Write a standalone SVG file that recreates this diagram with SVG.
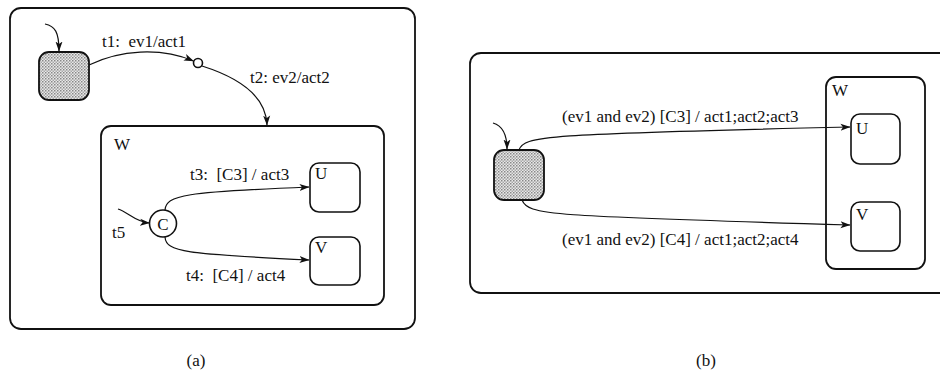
<svg xmlns="http://www.w3.org/2000/svg" width="940" height="375" viewBox="0 0 940 375">
<style>
  .box{fill:none;stroke:#111;stroke-width:1.8}
  .st{fill:#fff;stroke:#111;stroke-width:1.6}
  .sh{fill:url(#dots);stroke:#111;stroke-width:1.8}
  .ln{fill:none;stroke:#111;stroke-width:1.2;marker-end:url(#ah)}
  text{font-family:"Liberation Serif","Times New Roman",serif;font-size:17px;fill:#111;white-space:pre}
</style>
<defs>
  <marker id="ah" viewBox="0 0 10 8" refX="9.5" refY="4" markerWidth="10" markerHeight="8" markerUnits="userSpaceOnUse" orient="auto">
    <path d="M0,0.5 L10,4 L0,7.5 L2.5,4 z" fill="#111"/>
  </marker>
  <pattern id="dots" width="3" height="3" patternUnits="userSpaceOnUse">
    <rect width="3" height="3" fill="#e8e8e8"/>
    <rect width="1.5" height="1.5" fill="#888"/>
    <rect x="1.5" y="1.5" width="1.5" height="1.5" fill="#a8a8a8"/>
  </pattern>
</defs>

<!-- Diagram (a) -->
<g id="a-outer"><rect class="box" x="10" y="8" width="405" height="321" rx="11"/></g>
<g id="a-src"><rect class="sh" x="39" y="52" width="50" height="48" rx="10"/></g>
<g id="a-junction"><circle class="st" cx="198" cy="63" r="4.5"/></g>
<g id="a-W"><rect class="box" x="101" y="126" width="283" height="179" rx="10"/><text x="114" y="150">W</text></g>
<g id="a-U"><rect class="st" x="310" y="163" width="50" height="49" rx="9"/><text x="315" y="179">U</text></g>
<g id="a-V"><rect class="st" x="310" y="237" width="50" height="48" rx="9"/><text x="315" y="253">V</text></g>
<g id="a-C"><circle class="st" cx="163" cy="223.5" r="13.5"/><text x="163" y="229.5" text-anchor="middle">C</text></g>

<!-- Diagram (b) -->
<g id="b-outer"><rect class="box" x="470" y="53" width="500" height="240" rx="11"/></g>
<g id="b-src"><rect class="sh" x="494" y="150" width="50" height="50" rx="10"/></g>
<g id="b-W"><rect class="box" x="826" y="77" width="99" height="192" rx="10"/><text x="832" y="96">W</text></g>
<g id="b-U"><rect class="st" x="851" y="114" width="49" height="50" rx="9"/><text x="856" y="134">U</text></g>
<g id="b-V"><rect class="st" x="851" y="202" width="49" height="49" rx="9"/><text x="856" y="220">V</text></g>

<g id="connectors">
  <path class="ln" d="M45,24 C55,26 59,32 59,51"/>
  <path class="ln" d="M89,65 C120,50 160,47 193.5,61"/>
  <path class="ln" d="M202,66 C240,78 266,96 267,125"/>
  <path class="ln" d="M118,209 C128,212 135,222 149.5,223"/>
  <path class="ln" d="M165,210 C166,195 185,192 309,187"/>
  <path class="ln" d="M165,237 C166,252 185,254 309,260"/>
  <path class="ln" d="M493,123 C500,125 507,132 507,149"/>
  <path class="ln" d="M519,150 C524,136 540,134 850,127"/>
  <path class="ln" d="M522,200 C528,215 545,216 850,225"/>
</g>

<g id="labels">
  <text x="102" y="47">t1:  ev1/act1</text>
  <text x="250" y="83">t2: ev2/act2</text>
  <text x="190" y="180">t3:  [C3] / act3</text>
  <text x="186" y="281">t4:  [C4] / act4</text>
  <text x="112" y="238">t5</text>
  <text x="562" y="122">(ev1 and ev2) [C3] / act1;act2;act3</text>
  <text x="562" y="245">(ev1 and ev2) [C4] / act1;act2;act4</text>
  <text x="196" y="366" text-anchor="middle" font-size="16">(a)</text>
  <text x="706" y="366" text-anchor="middle" font-size="16">(b)</text>
</g>
</svg>
